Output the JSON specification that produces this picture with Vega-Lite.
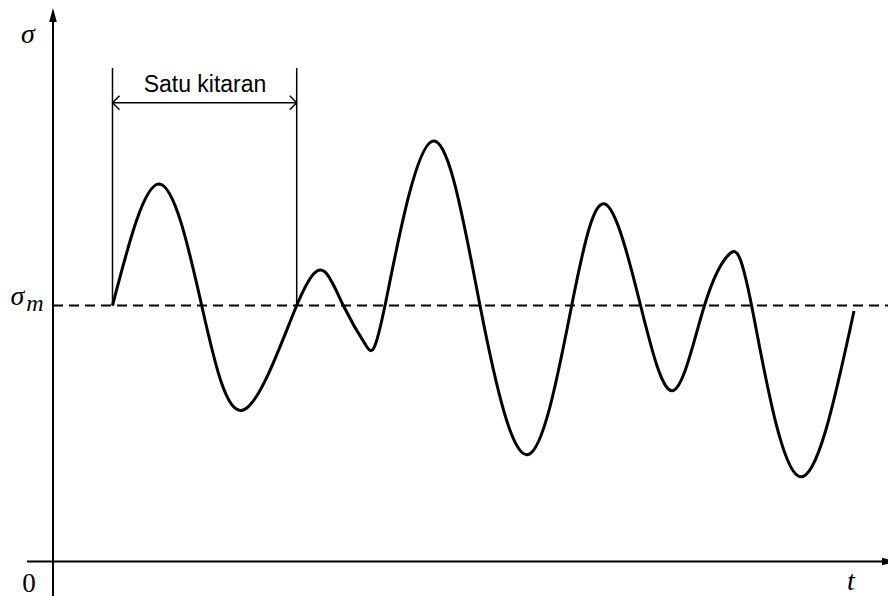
{
  "$schema": "https://vega.github.io/schema/vega-lite/v6.json",
  "width": 888,
  "height": 596,
  "padding": 0,
  "autosize": {"type": "none"},
  "background": "white",
  "config": {"view": {"stroke": null}},
  "datasets": {
    "stress": [
      {"t": 11.9, "s": 51.2}, {"t": 21.26, "s": 75.5}, {"t": 29.74, "s": 51.2}, {"t": 38.06, "s": 30.3},
      {"t": 48.74, "s": 51.2}, {"t": 54.3, "s": 58.0}, {"t": 58.06, "s": 51.2}, {"t": 62.6, "s": 43.2},
      {"t": 66.4, "s": 51.2}, {"t": 75.74, "s": 84.0}, {"t": 85.4, "s": 51.2}, {"t": 95.06, "s": 21.4},
      {"t": 103.74, "s": 51.2}, {"t": 110.4, "s": 71.5}, {"t": 117.54, "s": 51.1}, {"t": 124.06, "s": 34.2},
      {"t": 130.26, "s": 51.1}, {"t": 135.4, "s": 61.6}, {"t": 139.74, "s": 51.1}, {"t": 149.06, "s": 17.1},
      {"t": 160.2, "s": 50.1}
    ],
    "axes": [
      {"t": 0, "s": -6.9, "t2": 0, "s2": 107.9},
      {"t": -5.2, "s": 0, "t2": 167, "s2": 0}
    ],
    "meanLine": [
      {"t": 0, "s": 51.2, "t2": 167, "s2": 51.2}
    ],
    "cycle": [
      {"t": 11.9, "s": 51.2, "t2": 11.9, "s2": 98.7},
      {"t": 48.74, "s": 51.2, "t2": 48.74, "s2": 98.7},
      {"t": 11.9, "s": 91.76, "t2": 48.74, "s2": 91.76}
    ],
    "arrowUp": [{"t": 0, "s": 110.7}],
    "arrowRight": [{"t": 168.6, "s": 0}],
    "cycleStart": [{"t": 11.9, "s": 91.76}],
    "cycleEnd": [{"t": 48.74, "s": 91.76}],
    "symbols": [
      {"t": -5.0, "s": 103.7, "label": "σ"},
      {"t": -7.1, "s": 51.3, "label": "σ"},
      {"t": 159.6, "s": -5.6, "label": "t"}
    ],
    "subscripts": [{"t": -3.6, "s": 50.1, "label": "m"}],
    "origin": [{"t": -4.8, "s": -6.0, "label": "0"}],
    "caption": [{"t": 30.4, "s": 93.9, "label": "Satu kitaran"}]
  },
  "encoding": {
    "x": {"field": "t", "type": "quantitative", "scale": {"domain": [-10.6, 167], "nice": false, "zero": false}, "axis": null},
    "y": {"field": "s", "type": "quantitative", "scale": {"domain": [-6.9, 112.3], "nice": false, "zero": false}, "axis": null}
  },
  "layer": [
    {
      "data": {"name": "meanLine"},
      "mark": {"type": "rule", "color": "black", "strokeWidth": 1.8, "strokeDash": [10, 6]},
      "encoding": {"x2": {"field": "t2"}, "y2": {"field": "s2"}}
    },
    {
      "data": {"name": "axes"},
      "mark": {"type": "rule", "color": "black", "strokeWidth": 2},
      "encoding": {"x2": {"field": "t2"}, "y2": {"field": "s2"}}
    },
    {
      "data": {"name": "cycle"},
      "mark": {"type": "rule", "color": "black", "strokeWidth": 1.5},
      "encoding": {"x2": {"field": "t2"}, "y2": {"field": "s2"}}
    },
    {
      "data": {"name": "arrowUp"},
      "mark": {"type": "point", "shape": "M0,0L-0.55,2L0.55,2Z", "size": 196, "filled": true, "color": "black", "opacity": 1}
    },
    {
      "data": {"name": "arrowRight"},
      "mark": {"type": "point", "shape": "M0,0L-2,-0.55L-2,0.55Z", "size": 196, "filled": true, "color": "black", "opacity": 1}
    },
    {
      "data": {"name": "cycleStart"},
      "mark": {"type": "point", "shape": "M1,-1L0,0L1,1", "size": 196, "filled": false, "color": "black", "strokeWidth": 1.5, "opacity": 1}
    },
    {
      "data": {"name": "cycleEnd"},
      "mark": {"type": "point", "shape": "M-1,-1L0,0L-1,1", "size": 196, "filled": false, "color": "black", "strokeWidth": 1.5, "opacity": 1}
    },
    {
      "data": {"name": "stress"},
      "mark": {"type": "line", "interpolate": "natural", "color": "black", "strokeWidth": 3, "strokeJoin": "round"}
    },
    {
      "data": {"name": "symbols"},
      "mark": {"type": "text", "font": "Liberation Serif", "fontStyle": "italic", "fontSize": 28, "align": "center", "baseline": "alphabetic", "color": "black"},
      "encoding": {"text": {"field": "label"}}
    },
    {
      "data": {"name": "subscripts"},
      "mark": {"type": "text", "font": "Liberation Serif", "fontStyle": "italic", "fontSize": 24, "align": "center", "baseline": "alphabetic", "color": "black"},
      "encoding": {"text": {"field": "label"}}
    },
    {
      "data": {"name": "origin"},
      "mark": {"type": "text", "font": "Liberation Serif", "fontSize": 27, "align": "center", "baseline": "alphabetic", "color": "black"},
      "encoding": {"text": {"field": "label"}}
    },
    {
      "data": {"name": "caption"},
      "mark": {"type": "text", "font": "Liberation Sans", "fontSize": 23, "align": "center", "baseline": "alphabetic", "color": "black"},
      "encoding": {"text": {"field": "label"}}
    }
  ]
}
